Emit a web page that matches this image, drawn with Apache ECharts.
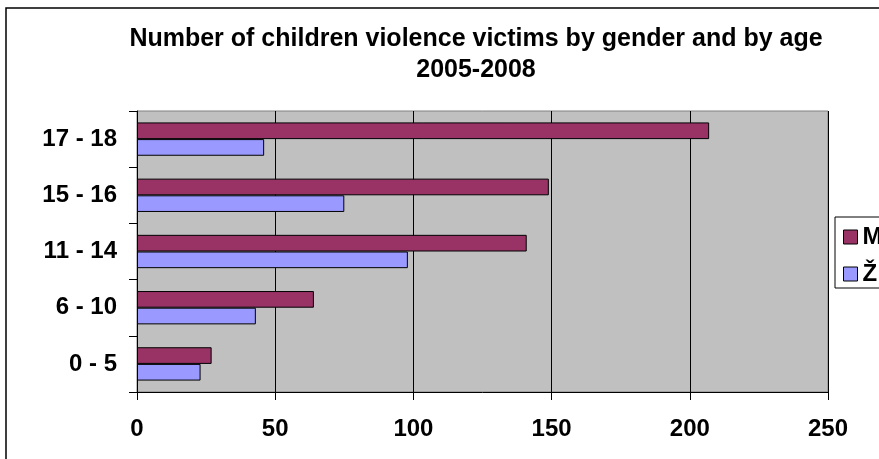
<!DOCTYPE html>
<html>
<head>
<meta charset="utf-8">
<script src="https://cdn.jsdelivr.net/npm/echarts@6/dist/echarts.min.js"></script>
<style>
  html, body { margin: 0; padding: 0; background: #fff; }
  #chart { width: 879px; height: 459px; }
</style>
</head>
<body>
<div id="chart"></div>
<script>
// Age groups, bottom to top
const ageGroups = ['0 - 5', '6 - 10', '11 - 14', '15 - 16', '17 - 18'];
// Victims per age group, 2005-2008
const male = [27, 64, 141, 149, 207];
const female = [23, 43, 98, 75, 46];
const seriesNames = ['M', 'Ž'];
const titleLines = ['Number of children violence victims by gender and by age', '2005-2008'];

const FONT = 'Arial, "Liberation Sans", sans-serif';

const chart = echarts.init(document.getElementById('chart'), null, { renderer: 'canvas' });

chart.setOption({
  backgroundColor: '#ffffff',
  animation: false,
  graphic: [
    {
      type: 'rect',
      shape: { x: 6, y: 8, width: 900, height: 500 },
      style: { fill: 'none', stroke: '#000', lineWidth: 1.5 },
      z: 100
    },
    {
      type: 'text',
      x: 476, y: 39,
      style: {
        text: titleLines[0], font: 'bold 25px ' + FONT, fill: '#000',
        textAlign: 'center', textVerticalAlign: 'middle'
      }
    },
    {
      type: 'text',
      x: 476, y: 70,
      style: {
        text: titleLines[1], font: 'bold 25px ' + FONT, fill: '#000',
        textAlign: 'center', textVerticalAlign: 'middle'
      }
    }
  ],
  legend: {
    data: seriesNames,
    orient: 'vertical',
    left: 835,
    top: 217,
    padding: [8, 30, 2, 8],
    itemGap: 13,
    itemWidth: 14,
    itemHeight: 14,
    icon: 'rect',
    backgroundColor: '#fff',
    borderColor: '#000',
    borderWidth: 1,
    itemStyle: { borderColor: '#000', borderWidth: 1 },
    textStyle: { fontFamily: FONT, fontWeight: 'bold', fontSize: 24, color: '#000' }
  },
  grid: {
    left: 137,
    right: 51,
    top: 111,
    bottom: 67,
    show: true,
    backgroundColor: '#C0C0C0',
    borderColor: '#808080',
    borderWidth: 1
  },
  xAxis: {
    type: 'value',
    min: 0,
    max: 250,
    interval: 50,
    axisLine: { show: true, lineStyle: { color: '#000', width: 1 } },
    axisTick: { show: true, length: 8, lineStyle: { color: '#000' } },
    splitLine: { show: true, lineStyle: { color: '#000', width: 1 } },
    axisLabel: {
      margin: 25,
      fontFamily: FONT, fontWeight: 'bold', fontSize: 24, color: '#000'
    }
  },
  yAxis: {
    type: 'category',
    data: ageGroups,
    axisLine: { show: true, lineStyle: { color: '#000', width: 1 } },
    axisTick: { show: true, length: 8, alignWithLabel: false, lineStyle: { color: '#000' } },
    splitLine: { show: false },
    axisLabel: {
      margin: 20,
      fontFamily: FONT, fontWeight: 'bold', fontSize: 24, color: '#000'
    }
  },
  series: [
    {
      name: seriesNames[0],
      type: 'bar',
      data: male,
      barGap: '0%',
      barCategoryGap: '40.7%',
      itemStyle: { color: '#993366', borderColor: '#000', borderWidth: 1 }
    },
    {
      name: seriesNames[1],
      type: 'bar',
      data: female,
      barGap: '0%',
      barCategoryGap: '40.7%',
      itemStyle: { color: '#9999FF', borderColor: '#000', borderWidth: 1 }
    }
  ]
});
</script>
</body>
</html>
